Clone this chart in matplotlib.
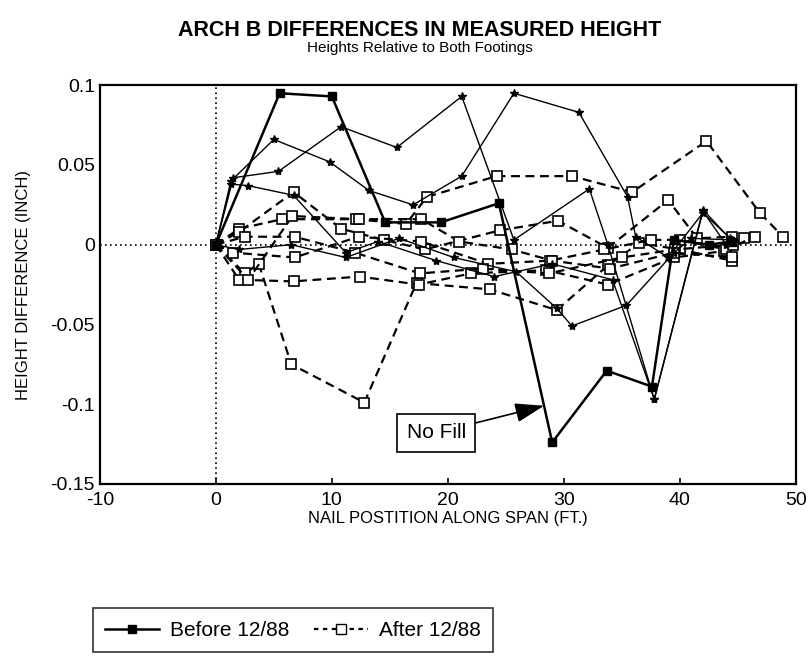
import numpy as np
import matplotlib
matplotlib.use('Agg')
import matplotlib.pyplot as plt
from matplotlib.lines import Line2D

plt.rcParams['font.family'] = ['Liberation Sans', 'DejaVu Sans']
plt.rcParams['axes.unicode_minus'] = False

#---------------------------------------------------------
# Before 12/88 (solid)
s1_x = [0, 5.5, 10, 14.6, 19.4, 24.4, 29, 33.7, 37.6, 39.5, 42.5, 44.5]
s1_y = [0, 0.095, 0.093, 0.014, 0.014, 0.026, -0.124, -0.079, -0.089, 0.003, 0.0, 0.002]

s2_x = [0, 1.5, 5.4, 10.8, 15.6, 21.2, 25.7, 32.2, 33.8, 37.8, 42, 44]
s2_y = [0, 0.042, 0.046, 0.074, 0.061, 0.093, 0.003, 0.035, 0.0, -0.097, 0.021, 0.0]

s3_x = [0, 1.3, 5, 9.8, 13.2, 17, 21.2, 25.7, 31.3, 35.5, 36.2, 39, 42, 44.5]
s3_y = [0, 0.04, 0.066, 0.052, 0.034, 0.025, 0.043, 0.095, 0.083, 0.03, 0.005, -0.008, 0.02, 0.003]

s4_x = [0, 1.3, 2.8, 6.7, 11.2, 14, 19, 24, 29, 34.2, 37.8, 42, 44.3]
s4_y = [0, 0.038, 0.037, 0.031, -0.005, 0.002, -0.01, -0.02, -0.012, -0.022, -0.097, 0.022, 0.004]

s5_x = [0, 2, 6.5, 11.2, 15.8, 20.5, 25.9, 29.4, 30.7, 35.4, 39.5, 41, 44.5]
s5_y = [0, -0.003, 0.0, -0.008, 0.004, -0.008, -0.017, -0.04, -0.051, -0.038, -0.005, 0.004, 0.003]

# After 12/88 (dashed)
d1_x = [0, 2, 5.7, 12.1, 16.4, 18.2, 24.2, 30.7, 35.9, 42.3, 46.9, 48.9]
d1_y = [0, 0.01, 0.016, 0.016, 0.013, 0.03, 0.043, 0.043, 0.033, 0.065, 0.02, 0.005]

d2_x = [0, 2, 6.7, 10.8, 14.5, 18, 24.5, 29.5, 33.8, 39, 41.5, 44.5]
d2_y = [0, 0.008, 0.033, 0.01, 0.003, -0.003, 0.009, 0.015, -0.002, 0.028, 0.004, 0.005]

d3_x = [0, 2.5, 3.7, 6.5, 12.8, 17.3, 23.6, 29.4, 33.8, 36.5, 40, 44.5]
d3_y = [0, -0.018, -0.012, -0.075, -0.099, -0.024, -0.028, -0.041, -0.013, 0.001, -0.003, -0.01]

d4_x = [0, 2, 6.7, 12.4, 17.5, 22, 28.5, 33.8, 39.5, 43.8, 45.5]
d4_y = [0, -0.022, -0.023, -0.02, -0.025, -0.018, -0.016, -0.025, -0.008, -0.004, 0.004]

d5_x = [0, 1.5, 6.8, 12.3, 17.7, 23.5, 28.8, 33.5, 37.5, 40, 44, 46.5]
d5_y = [0, -0.005, -0.008, 0.005, 0.002, -0.012, -0.01, -0.003, 0.003, 0.003, -0.003, 0.005]

d6_x = [0, 2.5, 6.8, 12, 17.6, 23, 28.7, 35, 39.6, 44.6]
d6_y = [0, 0.005, 0.005, -0.005, -0.018, -0.015, -0.018, -0.008, -0.003, 0.0]

d7_x = [0, 2.8, 6.6, 12.3, 17.7, 21, 25.5, 29, 34, 39.5, 44.5]
d7_y = [0, -0.022, 0.018, 0.016, 0.016, 0.002, -0.003, -0.01, -0.015, -0.005, -0.008]

before = [(s1_x, s1_y, 's'), (s2_x, s2_y, '*'), (s3_x, s3_y, '*'), (s4_x, s4_y, '*'), (s5_x, s5_y, '*')]
after = [(d1_x, d1_y), (d2_x, d2_y), (d3_x, d3_y), (d4_x, d4_y), (d5_x, d5_y), (d6_x, d6_y), (d7_x, d7_y)]
#---------------------------------------------------------

fig = plt.figure(figsize=(8.12, 6.61), dpi=100)
ax = fig.add_axes([0.123, 0.268, 0.857, 0.603])

ax.axhline(0, color='black', linestyle=(0, (1, 2)), linewidth=1.2, zorder=1)
ax.axvline(0, color='black', linestyle=(0, (1, 2)), linewidth=1.2, zorder=1)

for xs, ys, mk in before:
	if mk == 's':
		ax.plot(xs, ys, '-', color='black', linewidth=1.8, marker='s', markersize=6, zorder=3)
	else:
		ax.plot(xs, ys, '-', color='black', linewidth=1.0, marker='*', markersize=6, zorder=3)

for xs, ys in after:
	ax.plot(xs, ys, color='black', linestyle=(0, (4, 2.5)), linewidth=1.6,
		marker='s', markersize=7, markerfacecolor='white', markeredgecolor='black', markeredgewidth=1.2, zorder=2)

ax.set_xlim(-10, 50)
ax.set_ylim(-0.15, 0.1)
ax.set_xticks(np.arange(-10, 51, 10))
ax.set_yticks([-0.15, -0.1, -0.05, 0, 0.05, 0.1])
ax.set_yticklabels(['-0.15', '-0.1', '-0.05', '0', '0.05', '0.1'])
ax.tick_params(axis='both', direction='in', length=4, labelsize=14, width=1.2)
ax.tick_params(axis='x', pad=6)
ax.tick_params(axis='y', length=0)
for sp in ax.spines.values():
	sp.set_linewidth(1.6)

ax.set_xlabel('NAIL POSTITION ALONG SPAN (FT.)', fontsize=12, labelpad=1)
ax.set_ylabel('HEIGHT DIFFERENCE (INCH)', fontsize=12, labelpad=14)

# No Fill annotation
ax.annotate('No Fill', xy=(28.3, -0.101), xytext=(19.0, -0.118),
	fontsize=15, ha='center', va='center',
	bbox=dict(boxstyle='square,pad=0.45', facecolor='white', edgecolor='black', linewidth=1.2),
	arrowprops=dict(arrowstyle='-|>,head_length=1.2,head_width=0.4', color='black', linewidth=1.2, shrinkA=0, shrinkB=0),
	zorder=5)

fig.text(0.517, 0.954, 'ARCH B DIFFERENCES IN MEASURED HEIGHT', fontsize=15.5, fontweight='bold', ha='center', va='center')
fig.text(0.517, 0.928, 'Heights Relative to Both Footings', fontsize=11, ha='center', va='center')

handles = [
	Line2D([0], [0], color='black', linewidth=1.8, marker='s', markersize=6),
	Line2D([0], [0], color='black', linestyle=(0, (2, 2)), linewidth=1.6, marker='s', markersize=7,
		markerfacecolor='white', markeredgecolor='black'),
]
leg = fig.legend(handles, ['Before 12/88', 'After 12/88'], ncol=2, loc='lower left',
	bbox_to_anchor=(0.114, 0.013), fontsize=15, frameon=True, fancybox=False,
	edgecolor='black', handlelength=2.6, handletextpad=0.5, columnspacing=1.2, borderpad=0.6,
	borderaxespad=0)
leg.get_frame().set_linewidth(1.2)

fig.savefig('out.png', dpi=100)
